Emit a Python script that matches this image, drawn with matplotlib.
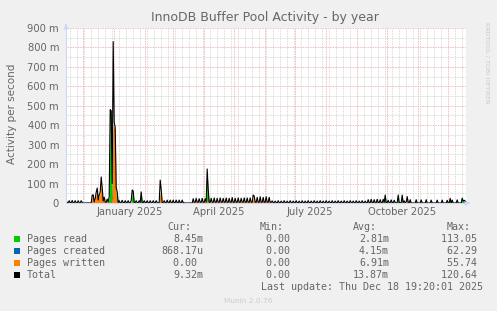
import numpy as np
import matplotlib
matplotlib.use("Agg")
import matplotlib.pyplot as plt
import matplotlib.dates as mdates
from matplotlib.ticker import MultipleLocator, FuncFormatter
from matplotlib.patches import Rectangle
from datetime import datetime, timedelta

title = "InnoDB Buffer Pool Activity - by year"
ylabel = "Activity per second"
first_day = datetime(2024, 11, 14)
x_start = datetime(2024, 11, 13, 19, 20)
x_end = datetime(2025, 12, 18, 19, 20)
label_dates = [datetime(2025, 1, 16), datetime(2025, 4, 16),
               datetime(2025, 7, 16), datetime(2025, 10, 16)]
label_texts = ["January 2025", "April 2025", "July 2025", "October 2025"]

# daily averages, milli-pages per second
pages_read = [
    6, 1, 0, 5, 0, 1, 7, 0, 1, 5, 1, 0, 6, 1, 0, 5, 1, 0, 0, 0,
    0, 0, 0, 0, 0, 0, 3, 2, 1, 2, 6, 15, 3, 5, 5, 20, 12, 2, 5, 1,
    1, 3, 1, 30, 478, 470, 40, 10, 5, 5, 45, 48, 1, 6, 0, 1, 7, 1, 0, 6,
    0, 1, 6, 0, 1, 5, 60, 55, 1, 0, 6, 1, 0, 5, 1, 50, 1, 0, 6, 1,
    0, 6, 1, 0, 5, 1, 0, 6, 1, 0, 5, 1, 0, 1, 50, 8, 1, 0, 6, 1,
    0, 7, 1, 0, 6, 1, 0, 7, 1, 0, 6, 1, 0, 7, 1, 0, 6, 1, 0, 0,
    0, 0, 0, 0, 0, 0, 0, 8, 1, 1, 9, 1, 1, 8, 1, 1, 9, 1, 1, 8,
    1, 154, 60, 1, 1, 9, 1, 1, 10, 1, 1, 9, 1, 1, 10, 1, 1, 9, 1, 1,
    10, 1, 1, 9, 1, 1, 11, 1, 1, 9, 1, 1, 10, 1, 1, 9, 1, 1, 10, 1,
    1, 9, 1, 1, 10, 1, 1, 12, 10, 1, 1, 10, 1, 1, 11, 1, 1, 10, 1, 1,
    11, 1, 1, 10, 1, 1, 5, 1, 0, 5, 1, 0, 6, 1, 0, 5, 1, 0, 6, 1,
    0, 5, 1, 0, 6, 1, 0, 5, 1, 0, 6, 1, 0, 5, 1, 0, 6, 1, 0, 5,
    1, 0, 6, 1, 0, 5, 1, 0, 6, 1, 0, 5, 1, 0, 6, 1, 0, 5, 1, 0,
    6, 1, 0, 5, 1, 0, 6, 1, 0, 5, 1, 0, 6, 1, 0, 5, 1, 0, 6, 1,
    0, 5, 1, 0, 6, 1, 0, 5, 1, 0, 6, 1, 0, 5, 1, 0, 6, 1, 0, 5,
    1, 0, 7, 1, 0, 8, 1, 0, 7, 1, 0, 8, 1, 0, 7, 1, 0, 8, 1, 38,
    1, 0, 6, 1, 0, 7, 1, 0, 6, 1, 0, 1, 30, 1, 0, 1, 30, 1, 4, 0,
    1, 3, 1, 0, 2, 0, 0, 0, 0, 0, 14, 0, 0, 0, 0, 3, 0, 0, 0, 0,
    5, 0, 0, 0, 0, 2, 0, 0, 0, 0, 0, 6, 0, 0, 0, 0, 3, 0, 0, 0,
    0, 4, 0, 0, 22, 0, 3, 0, 0, 0, 0, 5, 0, 0, 0, 0, 20, 8, 10, 8.45,
]
pages_created = [
    1, 0, 0, 1, 0, 0, 1, 0, 0, 1, 0, 0, 1, 0, 0, 1, 0, 0, 0, 0,
    0, 0, 0, 0, 0, 0, 2, 0, 0, 0, 4, 5, 0, 2, 0, 14, 8, 0, 0, 0,
    0, 2, 0, 0, 0, 0, 30, 420, 20, 5, 5, 0, 0, 1, 0, 0, 1, 0, 0, 1,
    0, 0, 1, 0, 0, 1, 2, 2, 0, 0, 1, 0, 0, 1, 0, 2, 0, 0, 1, 0,
    0, 1, 0, 0, 1, 0, 0, 1, 0, 0, 1, 0, 0, 0, 18, 5, 0, 0, 1, 0,
    0, 1, 0, 0, 1, 0, 0, 1, 0, 0, 1, 0, 0, 1, 0, 0, 1, 0, 0, 0,
    0, 0, 0, 0, 0, 0, 0, 1, 0, 0, 1, 0, 0, 1, 0, 0, 1, 0, 0, 1,
    0, 6, 2, 0, 0, 1, 0, 0, 1, 0, 0, 1, 0, 0, 1, 0, 0, 1, 0, 0,
    1, 0, 0, 1, 0, 0, 1, 0, 0, 1, 0, 0, 1, 0, 0, 1, 0, 0, 1, 0,
    0, 1, 0, 0, 1, 0, 0, 4, 4, 0, 0, 1, 0, 0, 1, 0, 0, 1, 0, 0,
    1, 0, 0, 1, 0, 0, 1, 0, 0, 1, 0, 0, 1, 0, 0, 1, 0, 0, 1, 0,
    0, 1, 0, 0, 1, 0, 0, 1, 0, 0, 1, 0, 0, 1, 0, 0, 1, 0, 0, 1,
    0, 0, 1, 0, 0, 1, 0, 0, 1, 0, 0, 1, 0, 0, 1, 0, 0, 1, 0, 0,
    1, 0, 0, 1, 0, 0, 1, 0, 0, 1, 0, 0, 1, 0, 0, 1, 0, 0, 1, 0,
    0, 1, 0, 0, 1, 0, 0, 1, 0, 0, 1, 0, 0, 1, 0, 0, 1, 0, 0, 1,
    0, 0, 1, 0, 0, 1, 0, 0, 1, 0, 0, 1, 0, 0, 1, 0, 0, 1, 0, 1,
    0, 0, 1, 0, 0, 1, 0, 0, 1, 0, 0, 0, 3, 0, 0, 0, 3, 0, 1, 0,
    0, 0, 0, 0, 1, 0, 0, 0, 0, 0, 1, 0, 0, 0, 0, 1, 0, 0, 0, 0,
    2, 0, 0, 0, 0, 0, 0, 0, 0, 0, 0, 1, 0, 0, 0, 0, 0, 0, 0, 0,
    0, 0, 0, 0, 0, 0, 0, 0, 0, 0, 0, 1, 0, 0, 0, 0, 2, 0, 1, 0.87,
]
pages_written = [
    5, 1, 1, 6, 1, 1, 5, 1, 1, 6, 1, 1, 5, 1, 1, 6, 1, 0, 0, 0,
    0, 0, 1, 0, 0, 1, 35, 40, 5, 20, 45, 57, 12, 35, 50, 100, 60, 8, 25, 4,
    2, 15, 4, 3, 2, 5, 30, 400, 390, 380, 30, 10, 1, 5, 1, 1, 6, 1, 1, 5,
    1, 1, 5, 1, 1, 6, 5, 5, 1, 1, 5, 1, 1, 6, 1, 5, 1, 1, 5, 1,
    1, 5, 1, 1, 6, 1, 1, 5, 1, 1, 6, 1, 1, 1, 50, 57, 1, 1, 5, 1,
    1, 7, 1, 1, 8, 1, 1, 7, 1, 1, 8, 1, 1, 7, 1, 1, 8, 1, 1, 0,
    0, 0, 0, 0, 0, 0, 0, 13, 3, 2, 14, 3, 2, 13, 3, 2, 14, 3, 2, 13,
    3, 15, 8, 3, 2, 14, 3, 2, 15, 3, 2, 14, 3, 2, 15, 3, 2, 14, 3, 2,
    15, 3, 2, 14, 3, 2, 16, 3, 2, 14, 3, 2, 15, 3, 2, 14, 3, 2, 15, 3,
    2, 16, 3, 2, 15, 3, 2, 25, 22, 3, 2, 18, 3, 2, 20, 3, 2, 18, 3, 2,
    20, 3, 2, 18, 3, 2, 5, 1, 1, 4, 1, 1, 5, 1, 1, 4, 1, 1, 5, 1,
    1, 4, 1, 1, 5, 1, 1, 4, 1, 1, 5, 1, 1, 4, 1, 1, 5, 1, 1, 4,
    1, 1, 5, 1, 1, 4, 1, 1, 5, 1, 1, 4, 1, 1, 5, 1, 1, 4, 1, 1,
    5, 1, 1, 4, 1, 1, 5, 1, 1, 4, 1, 1, 5, 1, 1, 4, 1, 1, 5, 1,
    1, 4, 1, 1, 5, 1, 1, 4, 1, 1, 5, 1, 1, 4, 1, 1, 5, 1, 1, 4,
    1, 1, 9, 1, 1, 10, 1, 1, 9, 1, 1, 10, 1, 1, 9, 1, 1, 10, 1, 2,
    1, 1, 7, 1, 1, 8, 1, 1, 7, 1, 1, 1, 8, 1, 1, 1, 8, 1, 6, 1,
    4, 30, 2, 0, 14, 0, 0, 0, 0, 0, 2, 0, 0, 0, 0, 12, 0, 0, 0, 0,
    10, 0, 0, 0, 0, 13, 0, 0, 0, 0, 0, 8, 0, 0, 0, 0, 12, 0, 0, 0,
    0, 10, 0, 0, 2, 0, 12, 0, 0, 0, 0, 10, 0, 0, 0, 0, 3, 2, 3, 0,
]

series_names = ["Pages read", "Pages created", "Pages written", "Total"]
series_colors = ["#00cc00", "#0066b3", "#ff8000", "#000000"]
cur_vals = ["8.45m", "868.17u", "0.00 ", "9.32m"]
min_vals = ["0.00 ", "0.00 ", "0.00 ", "0.00 "]
avg_vals = ["2.81m", "4.15m", "6.91m", "13.87m"]
max_vals = ["113.05 ", "62.29 ", "55.74 ", "120.64 "]
last_update = "Last update: Thu Dec 18 19:20:01 2025"
version = "Munin 2.0.76"

read = np.array(pages_read) / 1000.0
created = np.array(pages_created) / 1000.0
written = np.array(pages_written) / 1000.0
total = read + created + written
days = [first_day + timedelta(days=i) for i in range(len(read))]

W, H = 497, 311
FONT = "#666666"
AXIS = "#cfd6f8"

fig = plt.figure(figsize=(W / 100, H / 100), dpi=100, facecolor="#f0f0f0")
ax = fig.add_axes([66 / W, 1 - 203 / H, 400 / W, 175 / H])
ax.set_facecolor("white")

# three areas drawn over each other (not stacked), total as a line on top
for vals, col in zip([read, created, written], series_colors[:3]):
    ax.fill_between(days, 0, vals, color=col, lw=0, zorder=3)
ax.plot(days, total, color=series_colors[3], lw=0.8, zorder=4)

ax.set_xlim(x_start, x_end)
ax.set_ylim(0, 0.9)

# grid like rrdtool: red major, grey minor, dotted
ax.xaxis.set_major_locator(mdates.MonthLocator())
ax.xaxis.set_minor_locator(mdates.WeekdayLocator(byweekday=mdates.MO))
ax.yaxis.set_major_locator(MultipleLocator(0.1))
ax.yaxis.set_minor_locator(MultipleLocator(0.05))
ax.grid(which="minor", color="#cfcfcf", ls=(0, (1, 1)), lw=0.6, zorder=1)
ax.grid(which="major", color="#e9a3a3", ls=(0, (1, 1)), lw=0.6, zorder=1)
ax.set_axisbelow(True)

ax.yaxis.set_major_formatter(FuncFormatter(lambda v, p: "0" if abs(v) < 1e-9 else f"{v * 1000:.0f} m"))
ax.tick_params(axis="x", which="both", length=0, labelbottom=False)
ax.tick_params(axis="y", which="both", length=0, pad=5, labelsize=7.2, labelcolor=FONT)

for lbl_date, lbl in zip(label_dates, label_texts):
    ax.text(lbl_date, -9 / 175, lbl, transform=ax.get_xaxis_transform(),
            ha="center", va="center", fontsize=7.2, color=FONT)

for s in ["top", "right"]:
    ax.spines[s].set_visible(False)
for s in ["left", "bottom"]:
    ax.spines[s].set_color(AXIS)
    ax.spines[s].set_linewidth(0.8)
    ax.spines[s].set_zorder(5)

# arrows at the axis ends
ax.annotate("", xy=(0, 1 + 7 / 175), xytext=(0, 1), xycoords="axes fraction",
            arrowprops=dict(arrowstyle="-|>", color=AXIS, lw=0.8, mutation_scale=7))
ax.annotate("", xy=(1 + 7 / 400, 0), xytext=(1, 0), xycoords="axes fraction",
            arrowprops=dict(arrowstyle="-|>", color=AXIS, lw=0.8, mutation_scale=7))

fig.text(265 / W, 1 - 18 / H, title, ha="center", va="center", fontsize=9, color=FONT)
fig.text(12 / W, 1 - 114 / H, ylabel, rotation=90, ha="center", va="center",
         fontsize=7.5, color=FONT)
fig.text(487 / W, 1 - 22 / H, "RRDTOOL / TOBI OETIKER", rotation=270, ha="center",
         va="top", fontsize=4.6, color="#c8c8c8")

# legend block
mono = dict(family="DejaVu Sans Mono", fontsize=7.2, color=FONT, va="center")
for hx, htxt in zip([167, 260, 353, 447], ["Cur:", "Min:", "Avg:", "Max:"]):
    fig.text(hx / W, 1 - 227 / H, htxt, ha="left", **mono)
for i, name in enumerate(series_names):
    y = 239 + 12 * i
    fig.patches.append(Rectangle((14 / W, 1 - (y + 3) / H), 6 / W, 6 / H,
                                 transform=fig.transFigure, facecolor=series_colors[i],
                                 edgecolor="none"))
    fig.text(27 / W, 1 - y / H, name, ha="left", **mono)
    fig.text(203 / W, 1 - y / H, cur_vals[i], ha="right", **mono)
    fig.text(296 / W, 1 - y / H, min_vals[i], ha="right", **mono)
    fig.text(389 / W, 1 - y / H, avg_vals[i], ha="right", **mono)
    fig.text(483 / W, 1 - y / H, max_vals[i], ha="right", **mono)
fig.text(483 / W, 1 - 287 / H, last_update, ha="right", **mono)
fig.text(248 / W, 1 - 301 / H, version, ha="center", va="center", fontsize=5.3, color="#cccccc")

fig.savefig("out.png", dpi=100, facecolor=fig.get_facecolor())
